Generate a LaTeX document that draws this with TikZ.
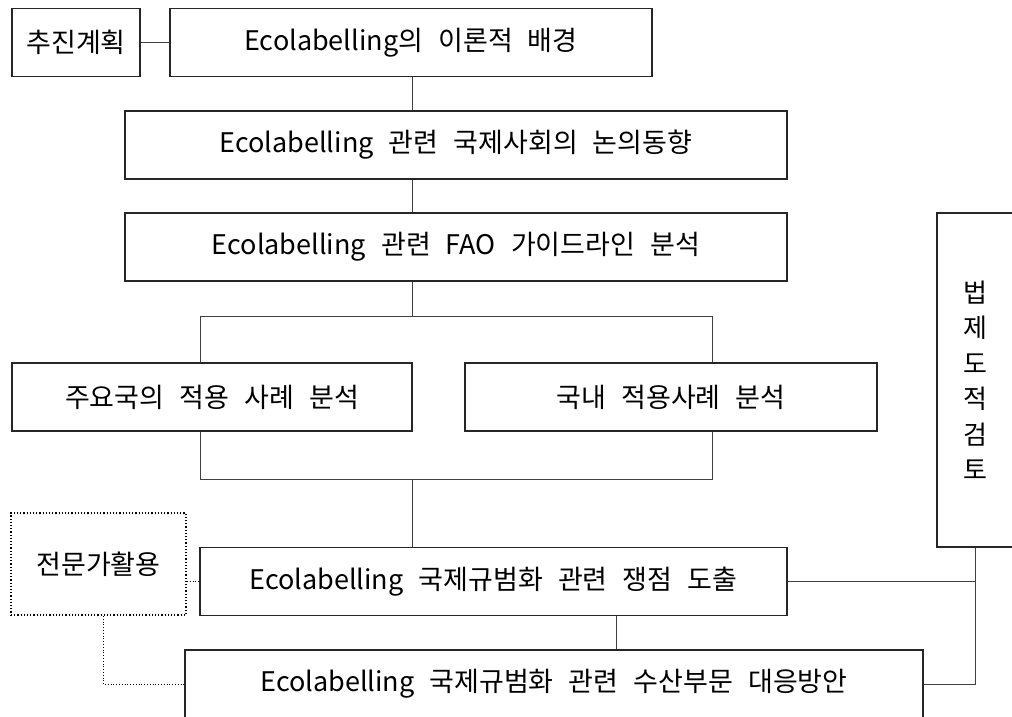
\documentclass[tikz,border=0pt]{standalone}
\usepackage{fontspec}
\setmainfont[WordSpace=2.5]{Noto Sans CJK KR}
\usepackage{tikz}

\tikzset{
  box/.style={draw=black!85, line width=1.2pt, inner sep=0pt, minimum height=68pt,
    font=\fontsize{27}{30}\selectfont},
  link/.style={draw=black!75, line width=1pt},
  helper/.style={draw=black, dotted, line width=1.8pt},
  hint/.style={draw=black, dotted, line width=0.8pt}
}

\begin{document}
\begin{tikzpicture}[x=1pt, y=-1pt]
\useasboundingbox (0,0) rectangle (1012,717);
% top row
\node[box, minimum width=128pt] (plan) at (76,42.5) {추진계획};
\node[box, minimum width=482pt] (theory) at (411,42.5) {Ecolabelling의 이론적 배경};
\node[box, minimum width=662pt] (trend) at (456,145) {Ecolabelling 관련 국제사회의 논의동향};
\node[box, minimum width=662pt] (fao) at (456,247) {Ecolabelling 관련 FAO 가이드라인 분석};
% case studies
\node[box, minimum width=400pt] (major) at (212,397) {주요국의 적용 사례 분석};
\node[box, minimum width=412pt] (domestic) at (671,397) {국내 적용사례 분석};
% results
\node[box, helper, minimum width=175pt, minimum height=102pt] (expert) at (98.5,564) {전문가활용};
\node[box, minimum width=587pt] (issue) at (493.5,581.5) {Ecolabelling 국제규범화 관련 쟁점 도출};
\node[box, minimum width=738pt] (response) at (554,684) {Ecolabelling 국제규범화 관련 수산부문 대응방안};
\node[box, minimum width=76pt, minimum height=334pt, align=center,
  font=\fontsize{26}{35.5}\selectfont] (legal) at (975,380) {법\\제\\도\\적\\검\\토};

\coordinate (splitL) at (200,316);
\coordinate (split) at (412,316);
\coordinate (splitR) at (712,316);
\coordinate (mergeL) at (200,479);
\coordinate (merge) at (412,479);
\coordinate (mergeR) at (712,479);
\coordinate (down) at (616,0);
\coordinate (side) at (103,0);

\draw[link] (plan) -- (theory);
\draw[link] (theory.south -| split) -- (trend.north -| split);
\draw[link] (trend.south -| split) -- (fao.north -| split);
\draw[link] (fao.south -| split) -- (split);
\draw[link] (major.north -| splitL) -- (splitL) -- (splitR) -- (domestic.north -| splitR);
\draw[link] (major.south -| mergeL) -- (mergeL) -- (mergeR) -- (domestic.south -| mergeR);
\draw[link] (merge) -- (issue.north -| merge);
\draw[link] (issue.south -| down) -- (response.north -| down);
\draw[link] (issue.east) -- (issue.east -| legal.south);
\draw[link] (legal.south) -- (legal.south |- response.east) -- (response.east);
\draw[hint] (expert.east |- issue.west) -- (issue.west);
\draw[hint] (expert.south -| side) |- (response.west);
\end{tikzpicture}
\end{document}
